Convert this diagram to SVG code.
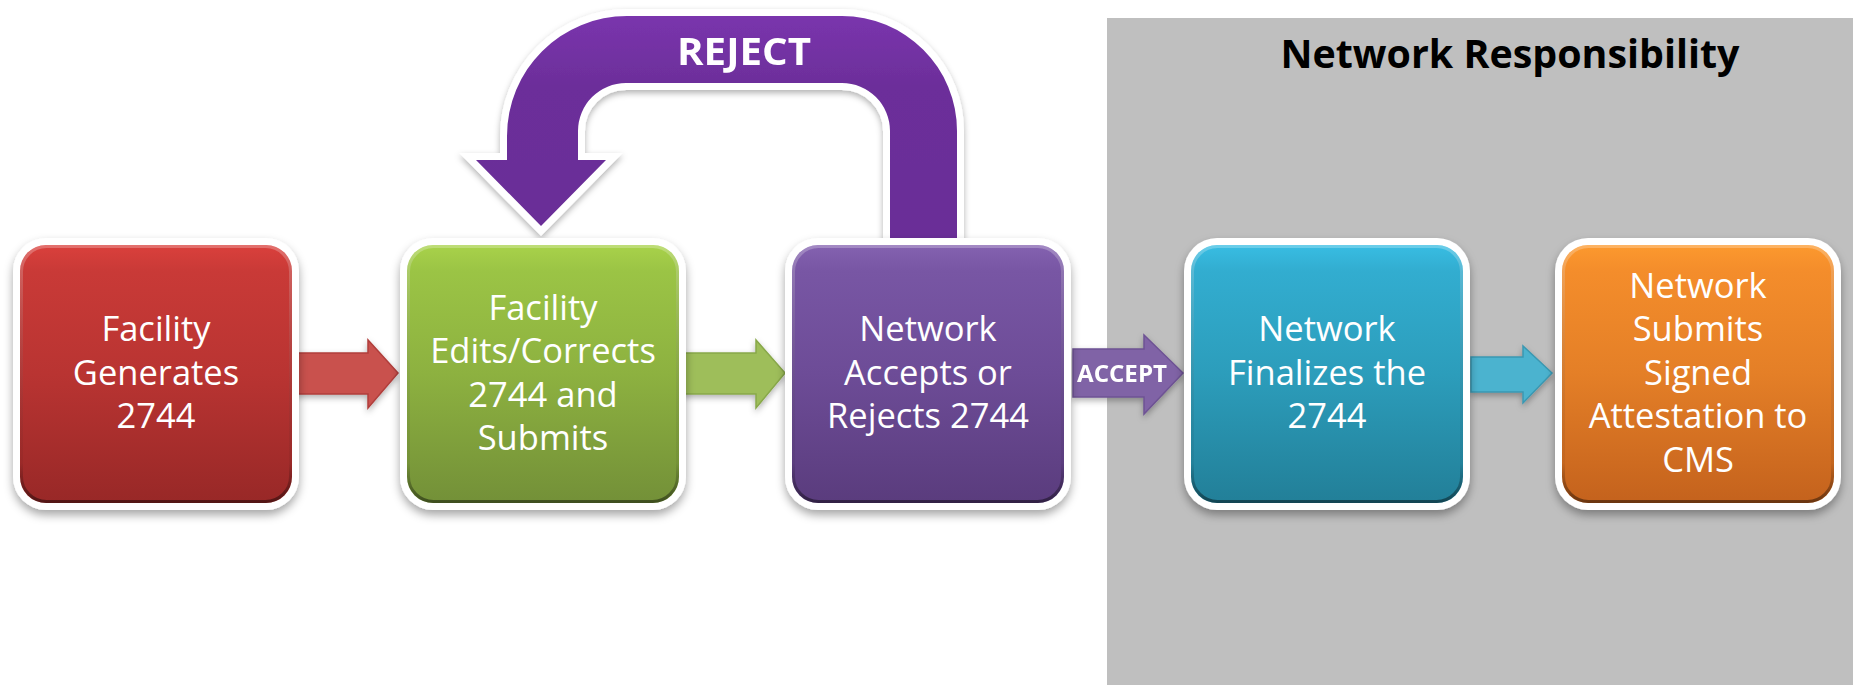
<svg xmlns="http://www.w3.org/2000/svg" width="1853" height="685" viewBox="0 0 1853 685">
<defs>
<style>
.lbl{font-family:"Open Sans","Liberation Sans",sans-serif;font-size:34.5px;fill:#fff;text-anchor:middle}
.bold{font-family:"Open Sans","Liberation Sans",sans-serif;font-weight:bold;text-anchor:middle}
.frame{fill:#fff}
.bevel{fill:none;stroke:url(#bev);stroke-width:3}
.arr{stroke-width:1.5;stroke-linejoin:miter}
</style>
<filter id="sh" x="-10%" y="-10%" width="120%" height="125%">
<feDropShadow dx="0" dy="5" stdDeviation="5" flood-color="#000" flood-opacity="0.35"/>
</filter>
<filter id="sh2" x="-10%" y="-20%" width="120%" height="150%">
<feDropShadow dx="0" dy="3" stdDeviation="3" flood-color="#000" flood-opacity="0.3"/>
</filter>
<linearGradient id="bev" x1="0" y1="0" x2="0" y2="1">
<stop offset="0" stop-color="#fff" stop-opacity="0.25"/>
<stop offset="0.85" stop-color="#000" stop-opacity="0.05"/>
<stop offset="1" stop-color="#000" stop-opacity="0.45"/>
</linearGradient>
<linearGradient id="gRed" x1="0" y1="0" x2="0" y2="1">
<stop offset="0" stop-color="#DA403C"/><stop offset="0.1" stop-color="#C93A37"/><stop offset="0.5" stop-color="#B93432"/><stop offset="1" stop-color="#982827"/>
</linearGradient>
<linearGradient id="gGreen" x1="0" y1="0" x2="0" y2="1">
<stop offset="0" stop-color="#A8D24A"/><stop offset="0.1" stop-color="#9BC445"/><stop offset="0.5" stop-color="#8DB140"/><stop offset="1" stop-color="#739038"/>
</linearGradient>
<linearGradient id="gPurple" x1="0" y1="0" x2="0" y2="1">
<stop offset="0" stop-color="#8462B0"/><stop offset="0.1" stop-color="#7856A4"/><stop offset="0.5" stop-color="#6D4C97"/><stop offset="1" stop-color="#5A3C7D"/>
</linearGradient>
<linearGradient id="gBlue" x1="0" y1="0" x2="0" y2="1">
<stop offset="0" stop-color="#38BDE3"/><stop offset="0.1" stop-color="#32ADD0"/><stop offset="0.5" stop-color="#2C9DBB"/><stop offset="1" stop-color="#227F98"/>
</linearGradient>
<linearGradient id="gOrange" x1="0" y1="0" x2="0" y2="1">
<stop offset="0" stop-color="#FC992E"/><stop offset="0.1" stop-color="#F48D2B"/><stop offset="0.5" stop-color="#E47F27"/><stop offset="1" stop-color="#C4621D"/>
</linearGradient>
<linearGradient id="gRej" x1="0" y1="0" x2="0" y2="1">
<stop offset="0" stop-color="#7A35AD"/><stop offset="0.3" stop-color="#6C2E9A"/><stop offset="1" stop-color="#6A2D97"/>
</linearGradient>
</defs>

<rect id="panel" x="1107" y="18" width="746" height="667" fill="#BFBFBF"/>
<text class="bold" x="1510" y="68" font-size="39" fill="#000" textLength="459" lengthAdjust="spacingAndGlyphs">Network Responsibility</text>

<g id="connectors">
<g id="reject" filter="url(#sh2)">
<path d="M957 250 L957 131 A115 115 0 0 0 842 16 L627 16 A120 120 0 0 0 507 136 L507 160 L476 160 L541 226 L606 160 L578 160 L578 131 A48 48 0 0 1 626 83 L842 83 A48 48 0 0 1 890 131 L890 250 Z" fill="url(#gRej)" stroke="#fff" stroke-width="14" stroke-linejoin="miter" paint-order="stroke"/>
<text class="bold" x="744" y="65" font-size="38" fill="#fff" textLength="134" lengthAdjust="spacingAndGlyphs">REJECT</text>
</g>
<path id="a1" class="arr" filter="url(#sh2)" d="M297 353 L368 353 L368 340 L398 373 L368 408 L368 394 L297 394 Z" fill="#C9514E" stroke="#B03E3B"/>
<path id="a2" class="arr" filter="url(#sh2)" d="M683 353 L756 353 L756 340 L785 373 L756 408 L756 394 L683 394 Z" fill="#9EBE5A" stroke="#88A84A"/>
<g id="accept" filter="url(#sh2)">
<path class="arr" d="M1073 349 L1144 349 L1144 335 L1183 373 L1144 414 L1144 397 L1073 397 Z" fill="#8064A6" stroke="#6E5294"/>
<text class="bold" x="1122" y="382" font-size="24" fill="#fff" textLength="90" lengthAdjust="spacingAndGlyphs">ACCEPT</text>
</g>
<path id="a4" class="arr" filter="url(#sh2)" d="M1471 357 L1523 357 L1523 346 L1552 373 L1523 403 L1523 392 L1471 392 Z" fill="#4CB3CF" stroke="#3A98B2"/>
</g>

<g id="n1">
<rect class="frame" x="13" y="238" width="286" height="272" rx="33" filter="url(#sh)"/>
<rect x="20" y="245" width="272" height="258" rx="26" fill="url(#gRed)"/>
<rect class="bevel" x="21.5" y="246.5" width="269" height="255" rx="25"/>
<text class="lbl" x="156" y="341">Facility</text>
<text class="lbl" x="156" y="385">Generates</text>
<text class="lbl" x="156" y="428">2744</text>
</g>
<g id="n2">
<rect class="frame" x="400" y="238" width="286" height="272" rx="33" filter="url(#sh)"/>
<rect x="407" y="245" width="272" height="258" rx="26" fill="url(#gGreen)"/>
<rect class="bevel" x="408.5" y="246.5" width="269" height="255" rx="25"/>
<text class="lbl" x="543" y="320">Facility</text>
<text class="lbl" x="543" y="363">Edits/Corrects</text>
<text class="lbl" x="543" y="407">2744 and</text>
<text class="lbl" x="543" y="450">Submits</text>
</g>
<g id="n3">
<rect class="frame" x="785" y="238" width="286" height="272" rx="33" filter="url(#sh)"/>
<rect x="792" y="245" width="272" height="258" rx="26" fill="url(#gPurple)"/>
<rect class="bevel" x="793.5" y="246.5" width="269" height="255" rx="25"/>
<text class="lbl" x="928" y="341">Network</text>
<text class="lbl" x="928" y="385">Accepts or</text>
<text class="lbl" x="928" y="428">Rejects 2744</text>
</g>
<g id="n4">
<rect class="frame" x="1184" y="238" width="286" height="272" rx="33" filter="url(#sh)"/>
<rect x="1191" y="245" width="272" height="258" rx="26" fill="url(#gBlue)"/>
<rect class="bevel" x="1192.5" y="246.5" width="269" height="255" rx="25"/>
<text class="lbl" x="1327" y="341">Network</text>
<text class="lbl" x="1327" y="385">Finalizes the</text>
<text class="lbl" x="1327" y="428">2744</text>
</g>
<g id="n5">
<rect class="frame" x="1555" y="238" width="286" height="272" rx="33" filter="url(#sh)"/>
<rect x="1562" y="245" width="272" height="258" rx="26" fill="url(#gOrange)"/>
<rect class="bevel" x="1563.5" y="246.5" width="269" height="255" rx="25"/>
<text class="lbl" x="1698" y="298">Network</text>
<text class="lbl" x="1698" y="341">Submits</text>
<text class="lbl" x="1698" y="385">Signed</text>
<text class="lbl" x="1698" y="428">Attestation to</text>
<text class="lbl" x="1698" y="472">CMS</text>
</g>
</svg>
